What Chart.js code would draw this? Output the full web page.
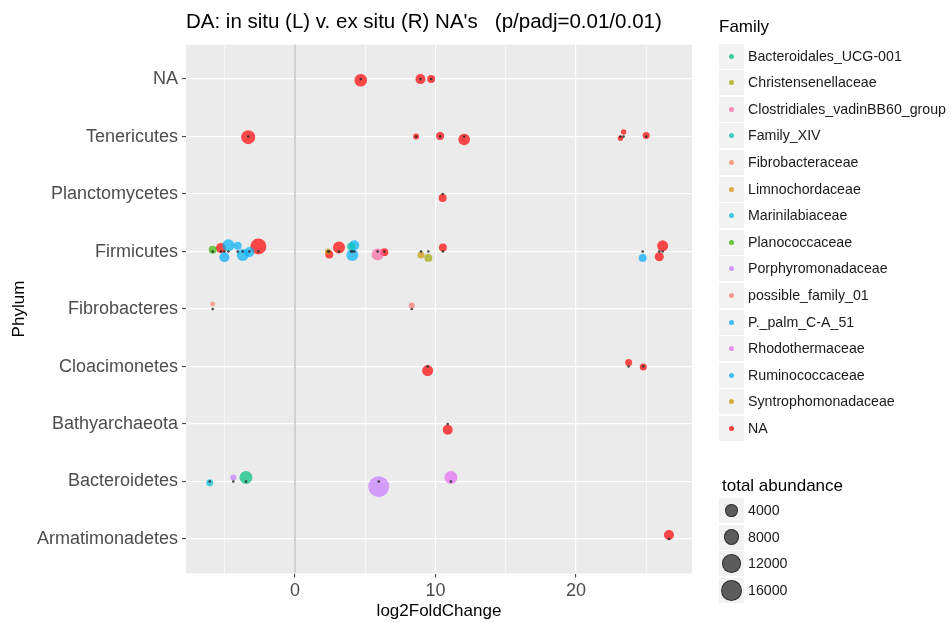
<!DOCTYPE html>
<html>
<head>
<meta charset="utf-8">
<script src="https://cdn.jsdelivr.net/npm/chart.js@4.4.1/dist/chart.umd.min.js"></script>
<style>
  body { margin: 0; background: #fff; font-family: Arial, 'Liberation Sans', sans-serif; }
  #wrap { position: relative; width: 951px; height: 622px; }
  .leg-title { position: absolute; left: 719px; font-size: 17px; color: #000; line-height: 20px; }
  .leg-row { position: absolute; left: 719px; height: 25px; }
  .leg-key { position: absolute; left: 0; top: 0; width: 25px; height: 25px; background: #f2f2f2; }
  .leg-key span { position: absolute; border-radius: 50%; box-sizing: border-box; }
  .leg-label { position: absolute; left: 29px; top: 0; line-height: 25px; font-size: 14.2px; color: #1a1a1a; white-space: nowrap; }
</style>
</head>
<body>
<div id="wrap">
  <canvas id="myChart" width="951" height="622"></canvas>
</div>
<script>
'use strict';

// data
let phyla = ['NA', 'Tenericutes', 'Planctomycetes', 'Firmicutes', 'Fibrobacteres',
  'Cloacimonetes', 'Bathyarchaeota', 'Bacteroidetes', 'Armatimonadetes'];

let families = ['Bacteroidales_UCG-001', 'Christensenellaceae', 'Clostridiales_vadinBB60_group',
  'Family_XIV', 'Fibrobacteraceae', 'Limnochordaceae', 'Marinilabiaceae', 'Planococcaceae',
  'Porphyromonadaceae', 'possible_family_01', 'P._palm_C-A_51', 'Rhodothermaceae',
  'Ruminococcaceae', 'Syntrophomonadaceae', 'NA'];

let pointPhylum = ['NA', 'NA', 'NA',
  'Tenericutes', 'Tenericutes', 'Tenericutes', 'Tenericutes', 'Tenericutes', 'Tenericutes', 'Tenericutes',
  'Planctomycetes',
  'Firmicutes', 'Firmicutes', 'Firmicutes', 'Firmicutes', 'Firmicutes', 'Firmicutes', 'Firmicutes', 'Firmicutes',
  'Firmicutes', 'Firmicutes', 'Firmicutes', 'Firmicutes', 'Firmicutes', 'Firmicutes', 'Firmicutes', 'Firmicutes',
  'Firmicutes', 'Firmicutes', 'Firmicutes', 'Firmicutes', 'Firmicutes', 'Firmicutes',
  'Fibrobacteres', 'Fibrobacteres',
  'Cloacimonetes', 'Cloacimonetes', 'Cloacimonetes',
  'Bathyarchaeota',
  'Bacteroidetes', 'Bacteroidetes', 'Bacteroidetes', 'Bacteroidetes', 'Bacteroidetes',
  'Armatimonadetes'];

let pointFamily = ['NA', 'NA', 'NA',
  'NA', 'NA', 'NA', 'NA', 'NA', 'NA', 'NA',
  'NA',
  'Planococcaceae', 'NA', 'Ruminococcaceae', 'P._palm_C-A_51', 'Ruminococcaceae', 'Ruminococcaceae', 'Ruminococcaceae', 'NA',
  'Limnochordaceae', 'NA', 'NA', 'Family_XIV', 'Ruminococcaceae', 'Ruminococcaceae', 'Clostridiales_vadinBB60_group', 'NA',
  'Syntrophomonadaceae', 'Christensenellaceae', 'NA', 'P._palm_C-A_51', 'NA', 'NA',
  'Fibrobacteraceae', 'possible_family_01',
  'NA', 'NA', 'NA',
  'NA',
  'Marinilabiaceae', 'Porphyromonadaceae', 'Bacteroidales_UCG-001', 'Porphyromonadaceae', 'Rhodothermaceae',
  'NA'];

let log2FoldChange = [4.68, 8.93, 9.69,
  -3.33, 8.62, 10.33, 12.04, 23.17, 23.39, 25.0,
  10.51,
  -5.86, -5.27, -4.74, -5.03, -4.08, -3.72, -3.25, -2.61,
  2.35, 2.44, 3.13, 3.99, 4.22, 4.08, 5.88, 6.36,
  8.97, 9.49, 10.53, 24.75, 26.17, 25.93,
  -5.86, 8.31,
  9.44, 23.75, 24.79,
  10.87,
  -6.07, -4.39, -3.49, 5.96, 11.1,
  26.62];

let totalAbundance = [5400, 3200, 1800,
  6800, 760, 1800, 4500, 500, 500, 1250,
  1800,
  1800, 3200, 4850, 3200, 1800, 4850, 3200, 9100,
  760, 1800, 4850, 1800, 3200, 4850, 4850, 1800,
  1250, 1800, 1800, 1800, 4000, 2500,
  340, 760,
  4000, 1250, 1250,
  3200,
  1250, 760, 5800, 16000, 5800,
  3200];

// vertical jitter of the coloured points, in category units
let jitterY = [0.02, 0, 0,
  0.01, 0, -0.01, 0.05, 0.03, -0.08, -0.02,
  0.07,
  -0.03, -0.06, -0.11, 0.10, -0.10, 0.06, 0.01, -0.09,
  0, 0.05, -0.07, -0.09, -0.11, 0.06, 0.05, 0.01,
  0.06, 0.11, -0.07, 0.11, -0.10, 0.09,
  -0.09, -0.06,
  0.07, -0.07, 0.01,
  0.10,
  0.02, -0.07, -0.07, 0.09, -0.07,
  -0.07];

let xTicks = [-5, 0, 5, 10, 15, 20, 25];
let sizeBreaks = [4000, 8000, 12000, 16000];

// styles
let familyColors = ['#00BF7D', '#A3A500', '#FF67A4', '#00C0AF', '#F4845F', '#D89000', '#00BCD8',
  '#39B600', '#C77CFF', '#F8766D', '#00A9FF', '#E76BF3', '#00B0F6', '#C99800', '#FF0000'];

function sizeToRadius(v) {
  return Math.sqrt(4 + 0.0066 * v);
}

// legend keys are drawn with their outline, a bit bigger
function keyRadius(v) {
  return Math.sqrt(16.7 + 0.00584 * v);
}

function hexAlpha(hex, a) {
  let r = parseInt(hex.slice(1, 3), 16);
  let g = parseInt(hex.slice(3, 5), 16);
  let b = parseInt(hex.slice(5, 7), 16);
  return `rgba(${r}, ${g}, ${b}, ${a})`;
}

// build datasets, one per family
let datasets = [];
let dots = [];
for (let i = 0; i < log2FoldChange.length; i++) {
  dots.push({ x: log2FoldChange[i], y: phyla.indexOf(pointPhylum[i]), r: 1.3 });
}
datasets.push({
  label: 'points',
  data: dots,
  backgroundColor: 'rgba(40, 40, 40, 0.85)',
  borderWidth: 0,
  order: 0
});
for (let f = 0; f < families.length; f++) {
  let pts = [];
  for (let i = 0; i < log2FoldChange.length; i++) {
    if (pointFamily[i] === families[f]) {
      pts.push({
        x: log2FoldChange[i],
        y: phyla.indexOf(pointPhylum[i]) + jitterY[i],
        r: sizeToRadius(totalAbundance[i])
      });
    }
  }
  datasets.push({
    label: families[f],
    data: pts,
    backgroundColor: hexAlpha(familyColors[f], 0.7),
    borderWidth: 0,
    order: 1
  });
}

let panelPlugin = {
  id: 'panel',
  beforeDraw(chart) {
    let { ctx, chartArea } = chart;
    ctx.save();
    ctx.fillStyle = '#EBEBEB';
    ctx.fillRect(chartArea.left, chartArea.top, chartArea.right - chartArea.left, chartArea.bottom - chartArea.top);
    ctx.restore();
  },
  beforeDatasetsDraw(chart) {
    let { ctx, chartArea, scales } = chart;
    let x0 = scales.x.getPixelForValue(0);
    ctx.save();
    ctx.strokeStyle = '#C8C8C8';
    ctx.lineWidth = 1.6;
    ctx.beginPath();
    ctx.moveTo(x0, chartArea.top);
    ctx.lineTo(x0, chartArea.bottom);
    ctx.stroke();
    ctx.restore();
  }
};

let config = {
  type: 'bubble',
  data: { datasets: datasets },
  options: {
    responsive: false,
    animation: false,
    devicePixelRatio: 1,
    layout: { padding: { top: 0, right: 259, bottom: 0, left: 0 } },
    plugins: {
      legend: { display: false },
      tooltip: { enabled: false },
      title: {
        display: true,
        text: "DA: in situ (L) v. ex situ (R) NA's   (p/padj=0.01/0.01)",
        align: 'start',
        fullSize: false,
        color: '#000',
        font: { family: 'Arial, "Liberation Sans", sans-serif', size: 20.5, weight: 'normal' },
        padding: { top: 10, bottom: 10 }
      }
    },
    scales: {
      x: {
        type: 'linear',
        min: -7.76,
        max: 28.26,
        afterBuildTicks: (scale) => {
          scale.ticks = xTicks.map(v => ({ value: v }));
        },
        afterFit: (scale) => { scale.height = 48.5; },
        border: { display: false },
        grid: {
          color: '#FFFFFF',
          lineWidth: (ctx) => (ctx.tick && ctx.tick.value % 10 === 0 ? 1.2 : 0.6),
          tickColor: (ctx) => (ctx.tick && ctx.tick.value % 10 === 0 ? '#333333' : 'rgba(0,0,0,0)'),
          tickLength: 4,
          tickWidth: 1
        },
        ticks: {
          padding: 3,
          color: '#4D4D4D',
          font: { family: 'Arial, "Liberation Sans", sans-serif', size: 18 },
          maxRotation: 0,
          autoSkip: false,
          callback: (v) => (v % 10 === 0 ? String(v) : '')
        },
        title: {
          display: true,
          text: 'log2FoldChange',
          color: '#000',
          font: { family: 'Arial, "Liberation Sans", sans-serif', size: 17 },
          padding: { top: 0, bottom: 0 }
        }
      },
      y: {
        type: 'linear',
        reverse: true,
        min: -0.6,
        max: 8.6,
        afterBuildTicks: (scale) => {
          scale.ticks = phyla.map((p, i) => ({ value: i }));
        },
        afterFit: (scale) => { scale.width = 186; },
        border: { display: false },
        grid: {
          color: '#FFFFFF',
          lineWidth: 1.2,
          tickColor: '#333333',
          tickLength: 4,
          tickWidth: 1
        },
        ticks: {
          padding: 4,
          color: '#4D4D4D',
          font: { family: 'Arial, "Liberation Sans", sans-serif', size: 18 },
          autoSkip: false,
          callback: (v) => phyla[v]
        },
        title: {
          display: true,
          text: 'Phylum',
          color: '#000',
          font: { family: 'Arial, "Liberation Sans", sans-serif', size: 17 },
          padding: { top: 9, bottom: 0 }
        }
      }
    }
  },
  plugins: [panelPlugin]
};

const ctx = document.getElementById('myChart').getContext('2d');
const myChart = new Chart(ctx, config);

// legends
let wrap = document.getElementById('wrap');

function addDiv(cls, css, text) {
  let d = document.createElement('div');
  d.className = cls;
  d.style.cssText = css;
  if (text) d.textContent = text;
  wrap.appendChild(d);
  return d;
}

addDiv('leg-title', 'top: 17px;', 'Family');
for (let i = 0; i < families.length; i++) {
  let row = addDiv('leg-row', `top: ${43.5 + i * 26.6}px;`);
  let key = document.createElement('div');
  key.className = 'leg-key';
  let dot = document.createElement('span');
  dot.style.cssText = `left: 10px; top: 10px; width: 5px; height: 5px; background: ${hexAlpha(familyColors[i], 0.75)};`;
  key.appendChild(dot);
  row.appendChild(key);
  let lab = document.createElement('div');
  lab.className = 'leg-label';
  lab.textContent = families[i];
  row.appendChild(lab);
}

addDiv('leg-title', 'top: 475.5px; left: 722px;', 'total abundance');
for (let i = 0; i < sizeBreaks.length; i++) {
  let row = addDiv('leg-row', `top: ${498 + i * 26.6}px;`);
  let key = document.createElement('div');
  key.className = 'leg-key';
  let r = keyRadius(sizeBreaks[i]);
  let dot = document.createElement('span');
  dot.style.cssText = `left: ${12.5 - r}px; top: ${12.5 - r}px; width: ${2 * r}px; height: ${2 * r}px; background: rgba(0,0,0,0.62); border: 1px solid rgba(30,30,30,0.8);`;
  key.appendChild(dot);
  row.appendChild(key);
  let lab = document.createElement('div');
  lab.className = 'leg-label';
  lab.textContent = String(sizeBreaks[i]);
  row.appendChild(lab);
}
</script>
</body>
</html>
